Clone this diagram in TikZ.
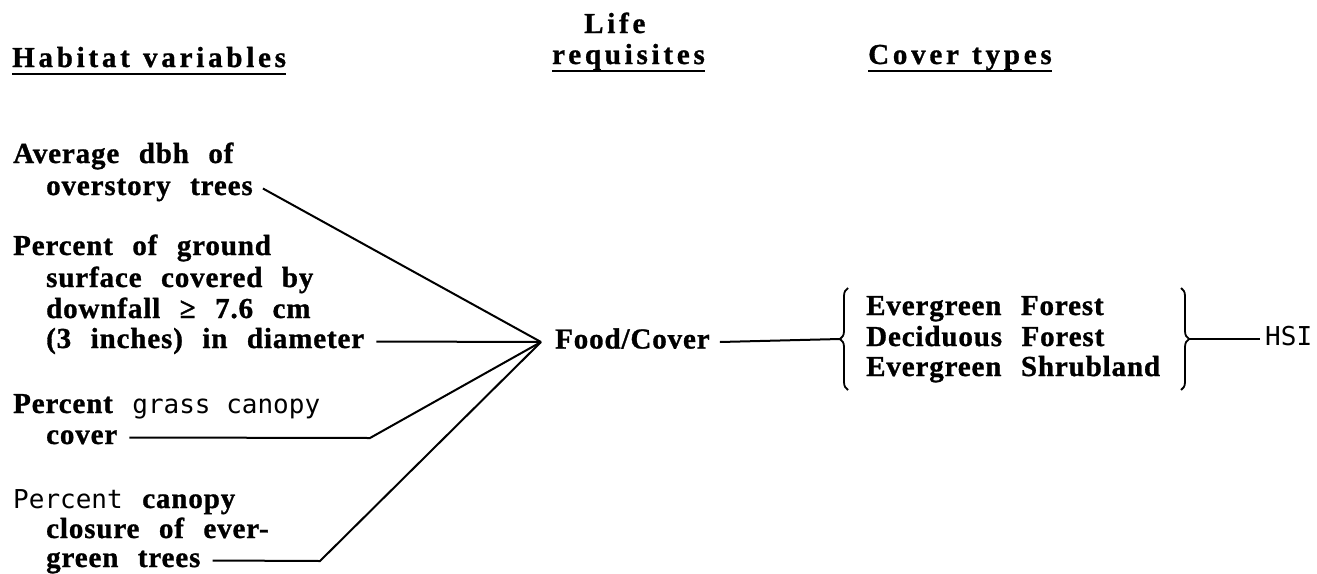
\documentclass[tikz,border=0pt]{standalone}
\usepackage{fontspec}
\setmainfont{Liberation Serif}[LetterSpace=3,WordSpace=2.4,BoldFeatures={FakeBold=1}]
\newfontfamily\headfont{Liberation Serif}[LetterSpace=13,WordSpace=1.2,BoldFeatures={FakeBold=1}]
\newfontfamily\typesans{DejaVu Sans Mono}
\usetikzlibrary{positioning,decorations.pathreplacing}

\begin{document}
\begin{tikzpicture}[x=1pt,y=-1pt]

	\tikzset{
	var/.style={anchor=base west, inner sep=0pt, text height=19pt, text depth=6pt,
		font=\fontsize{29}{30}\selectfont\bfseries},
	head/.style={anchor=base west, inner sep=0pt,
		font=\fontsize{29}{30}\selectfont\headfont\bfseries},
	link/.style={line width=2pt},
	ul/.style={line width=2.6pt},
	brc/.style={line width=1.8pt, decorate, decoration={brace, amplitude=8pt}}
}

\useasboundingbox (0,0) rectangle (1317,573);

% headings
\node[head] (hab) at (12,67) {Habitat variables};
\node[head] (life) at (584,33) {Life};
\node[head] (req) at (552,64) {requisites};
\node[head] (cty) at (868,64) {Cover types};
\draw[ul] ([yshift=-7pt]hab.base west) -- ([yshift=-7pt]hab.base east);
\draw[ul] ([yshift=-7pt]req.base west) -- ([yshift=-7pt]req.base east);
\draw[ul] ([yshift=-7pt]cty.base west) -- ([yshift=-7pt]cty.base east);

% habitat variables
\node[var] (avg) at (13,163) {Average dbh of};
\node[var] (ovs) at (46,195) {overstory trees};
\node[var] (pog) at (13,255) {Percent of ground};
\node[var] (sfc) at (46,287) {surface covered by};
\node[var] (dwn) at (46,318) {downfall ≥ 7.6 cm};
\node[var] (dia) at (46,348) {(3 inches) in diameter};
\node[var] (pgc) at (13,413) {Percent {\typesans\mdseries\fontsize{26}{30}\selectfont grass canopy}};
\node[var] (cvr) at (46,444) {cover};
\node[var] (pcc) at (13,508) {{\typesans\mdseries\fontsize{26}{30}\selectfont Percent} canopy};
\node[var] (cls) at (46,538) {closure of ever-};
\node[var] (grn) at (46,567) {green trees};

\coordinate (hub) at (541,342);
\coordinate (cvrbend) at (370,438);
\coordinate (grnbend) at (320,561);
\node[var, anchor=west, right=14pt of hub] (food) {Food/Cover};

% cover types
\node[var] (ev1) at (866,315) {Evergreen Forest};
\node[var] (dec) at (866,346) {Deciduous Forest};
\node[var] (ev2) at (866,376) {Evergreen Shrubland};
\draw[brc] (848,390) -- (848,288);
\draw[brc] (1181,288) -- (1181,390);
\coordinate (lb) at (840,339);
\coordinate (rb) at (1189,339);

\node[var, anchor=west, font=\fontsize{26}{30}\selectfont\typesans] (hsi) at (1265,339) {HSI};

\draw[link] ([xshift=10pt]ovs.east) -- (hub);
\draw[link] ([xshift=12pt]dia.east) -- (hub);
\draw[link] ([xshift=12pt]cvr.east) -- (cvrbend) -- (hub);
\draw[link] ([xshift=12pt]grn.east) -- (grnbend) -- (hub);
\draw[link] ([xshift=10pt]food.east) -- (lb);
\draw[link] (rb) -- ([xshift=-5pt]hsi.west);

\end{tikzpicture}
\end{document}
